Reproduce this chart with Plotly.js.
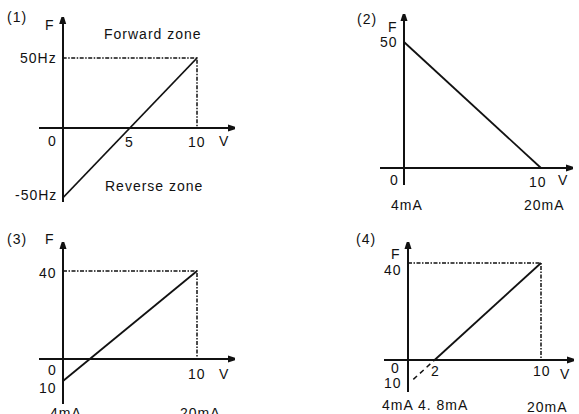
<!DOCTYPE html>
<html><head><meta charset="utf-8">
<script src="https://cdn.plot.ly/plotly-3.0.1.min.js"></script>
<style>html,body{margin:0;padding:0;background:#fff}#chart{width:579px;height:414px}
.annotation-text{letter-spacing:1px}</style>
</head><body><div id="chart"></div>
<script>
// ---------- data ----------
const p1V = [0, 10], p1F = [-50, 50];
const p1GuideV = [0, 10, 10], p1GuideF = [50, 50, 0];
const p2V = [0, 10], p2F = [50, 0];
const p3V = [0, 10], p3F = [-10, 40];
const p3GuideV = [0, 10, 10], p3GuideF = [40, 40, 0];
const p4V = [2, 10], p4F = [0, 40];
const p4ExtV = [0.4, 2], p4ExtF = [-8, 0];
const p4GuideV = [0, 10, 10], p4GuideF = [40, 40, 0];

// tick labels
const p1XTickVals = [5, 10], p1XTickText = ['5', '10'];
const p1YTickVals = [50, -50], p1YTickText = ['50Hz', '-50Hz'];
const p2XTickVals = [10], p2XTickText = ['10'];
const p2YTickVals = [50], p2YTickText = ['50'];
const p2CurVals = [0, 10], p2CurText = ['4mA', '20mA'];
const p3XTickVals = [10], p3XTickText = ['10'];
const p3YTickVals = [40, -10], p3YTickText = ['40', '10'];
const p3CurVals = [0, 10], p3CurText = ['4mA', '20mA'];
const p4XTickVals = [2, 10], p4XTickText = ['2', '10'];
const p4YTickVals = [40, -10], p4YTickText = ['40', '10'];
const p4CurText = '4mA 4. 8mA', p4Cur2Val = 10, p4Cur2Text = '20mA';

const panelNames = ['(1)', '(2)', '(3)', '(4)'];
const zoneText = ['Forward zone', 'Reverse zone'];

// ---------- layout geometry (pixels) ----------
const W = 579, H = 414;
const frames = [
  {ox: 62.7, oy: 128, x10: 197, yv: 50, ypx: 58, xl: 39, xt: 239, yb: 202, yt: 13},
  {ox: 404, oy: 168, x10: 541, yv: 50, ypx: 42, xl: 380, xt: 577, yb: 185, yt: 10},
  {ox: 63, oy: 359, x10: 197, yv: 40, ypx: 271, xl: 39, xt: 239, yb: 404, yt: 238},
  {ox: 408, oy: 360, x10: 541, yv: 40, ypx: 263, xl: 384, xt: 578, yb: 392, yt: 238}
];

const FONT = {family: 'Liberation Sans, Arial, sans-serif', size: 14, color: '#111'};
const layout = {
  width: W, height: H, margin: {l: 0, r: 0, t: 0, b: 0},
  paper_bgcolor: '#fff', plot_bgcolor: 'rgba(0,0,0,0)',
  showlegend: false, font: FONT, annotations: [], shapes: []
};

const AX_GAP = 4; // arrow tip beyond axis end
frames.forEach((f, i) => {
  const sx = (f.x10 - f.ox) / 10;
  const sy = (f.oy - f.ypx) / f.yv;
  const xEnd = f.xt - AX_GAP, yEnd = f.yt + AX_GAP;
  const xr = [(f.xl - f.ox) / sx, (xEnd - f.ox) / sx];
  const yr = [(f.oy - f.yb) / sy, (f.oy - yEnd) / sy];
  const n = i === 0 ? '' : String(i + 1);
  const common = {showgrid: false, showticklabels: false, ticks: '', showline: false,
    zeroline: true, zerolinecolor: '#111', zerolinewidth: 2.2, fixedrange: true};
  layout['xaxis' + n] = Object.assign({}, common, {domain: [f.xl / W, xEnd / W], range: xr, anchor: 'y' + n});
  layout['yaxis' + n] = Object.assign({}, common, {domain: [1 - f.yb / H, 1 - yEnd / H], range: yr, anchor: 'x' + n});
  f.xref = 'x' + n; f.yref = 'y' + n; f.xr = xr; f.yr = yr;
  // arrow heads
  layout.shapes.push({type: 'path', xref: f.xref, yref: f.yref, xsizemode: 'pixel', ysizemode: 'pixel',
    xanchor: xr[1], yanchor: 0, path: 'M' + AX_GAP + ',0 L' + (AX_GAP - 11) + ',-3.5 L' + (AX_GAP - 11) + ',3.5 Z',
    fillcolor: '#111', line: {width: 0}});
  layout.shapes.push({type: 'path', xref: f.xref, yref: f.yref, xsizemode: 'pixel', ysizemode: 'pixel',
    xanchor: 0, yanchor: yr[1], path: 'M0,' + AX_GAP + ' L-3.5,' + (AX_GAP - 11) + ' L3.5,' + (AX_GAP - 11) + ' Z',
    fillcolor: '#111', line: {width: 0}});
});

// ---------- traces ----------
const solid = {color: '#111', width: 1.8};
const guide = {color: '#111', width: 1.5, dash: '4px,1.5px,1.5px,1.5px'};
function tr(x, y, k, line) {
  const f = frames[k];
  return {x: x, y: y, xaxis: f.xref, yaxis: f.yref, mode: 'lines', line: line, hoverinfo: 'skip', cliponaxis: false};
}
const data = [
  tr(p1GuideV, p1GuideF, 0, guide), tr(p1V, p1F, 0, solid),
  tr(p2V, p2F, 1, solid),
  tr(p3GuideV, p3GuideF, 2, guide), tr(p3V, p3F, 2, solid),
  tr(p4GuideV, p4GuideF, 3, guide), tr(p4V, p4F, 3, solid),
  tr(p4ExtV, p4ExtF, 3, {color: '#111', width: 1.5, dash: '5px,4px'})
];

// ---------- annotations ----------
const A = layout.annotations;
function pix(text, x, y, xanchor) {
  A.push({text: text, xref: 'paper', yref: 'paper', x: x / W, y: 1 - y / H,
    xanchor: xanchor || 'center', yanchor: 'middle', showarrow: false, font: FONT});
}
function xlab(k, vals, texts, dy, dx) {
  const f = frames[k];
  vals.forEach((v, j) => A.push({text: texts[j], xref: f.xref, yref: f.yref, x: v, y: 0,
    xanchor: 'center', yanchor: 'top', yshift: -dy, xshift: dx || 0, showarrow: false, font: FONT}));
}
function ylab(k, vals, texts, dys) {
  const f = frames[k];
  vals.forEach((v, j) => A.push({text: texts[j], xref: f.xref, yref: f.yref, x: 0, y: v,
    xanchor: 'right', yanchor: 'middle', xshift: -4, yshift: dys ? dys[j] : 0, showarrow: false, font: FONT}));
}

// panel 1
pix(panelNames[0], 17, 17); pix('F', 50, 25); pix(zoneText[0], 153, 34); pix(zoneText[1], 154, 186);
pix('0', 52, 141); pix('V', 224, 141);
xlab(0, p1XTickVals, p1XTickText, 4);
ylab(0, p1YTickVals, p1YTickText, [0, 3]);
// panel 2
pix(panelNames[1], 367, 19); pix('F', 393, 27); pix('0', 394, 180); pix('V', 563, 180);
xlab(1, p2XTickVals, p2XTickText, 4, -3);
ylab(1, p2YTickVals, p2YTickText);
xlab(1, p2CurVals, p2CurText, 27, 3);
// panel 3
pix(panelNames[2], 17, 239); pix('F', 50, 239); pix('0', 52, 370); pix('V', 224, 374);
xlab(2, p3XTickVals, p3XTickText, 5);
ylab(2, p3YTickVals, p3YTickText, [-2, -7]);
xlab(2, p3CurVals, p3CurText, 44, 3);
// panel 4
pix(panelNames[3], 366, 239); pix('F', 396, 254); pix('0', 395, 368); pix('V', 565, 374);
xlab(3, p4XTickVals, p4XTickText, 1, 1);
ylab(3, p4YTickVals, p4YTickText, [-7, 1]);
pix(p4CurText, 425, 405);
xlab(3, [p4Cur2Val], [p4Cur2Text], 37, 6);

Plotly.newPlot('chart', data, layout, {staticPlot: true, displayModeBar: false});
</script>
</body></html>
